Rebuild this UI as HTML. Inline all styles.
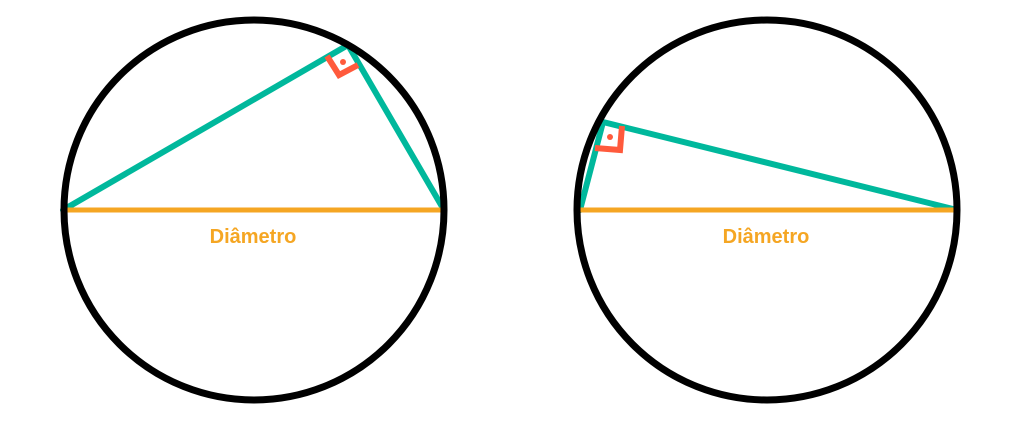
<!DOCTYPE html>
<html><head><style>body{margin:0;background:#fff}svg{display:block}</style></head>
<body>
<svg width="1009" height="422" viewBox="0 0 1009 422" xmlns="http://www.w3.org/2000/svg">
<g fill="none" stroke-linecap="round" stroke-linejoin="round">
<polyline points="63,210 348,45 444,210" stroke="#00b89c" stroke-width="6"/>
<polyline points="327,56 339,75 358,65" stroke="#ff5a3c" stroke-width="6" stroke-linejoin="miter" stroke-linecap="butt"/>
<line x1="63" y1="210" x2="444" y2="210" stroke="#f5a623" stroke-width="5"/>
<circle cx="254" cy="210" r="190" stroke="#000" stroke-width="7"/>

<polyline points="580,210 603,122 957,210" stroke="#00b89c" stroke-width="6"/>
<polyline points="622,126 620,150 595,148" stroke="#ff5a3c" stroke-width="6" stroke-linejoin="miter" stroke-linecap="butt"/>
<line x1="577" y1="210" x2="957" y2="210" stroke="#f5a623" stroke-width="5"/>
<circle cx="767" cy="210" r="190" stroke="#000" stroke-width="7"/>
</g>
<circle cx="343" cy="62" r="3" fill="#ff5a3c"/>
<circle cx="610" cy="137" r="3" fill="#ff5a3c"/>
<g font-family="Liberation Sans, sans-serif" font-weight="bold" font-size="20" fill="#f5a623" text-anchor="middle">
<text x="253" y="243">Diâmetro</text>
<text x="766" y="243">Diâmetro</text>
</g>
</svg>
</body></html>
